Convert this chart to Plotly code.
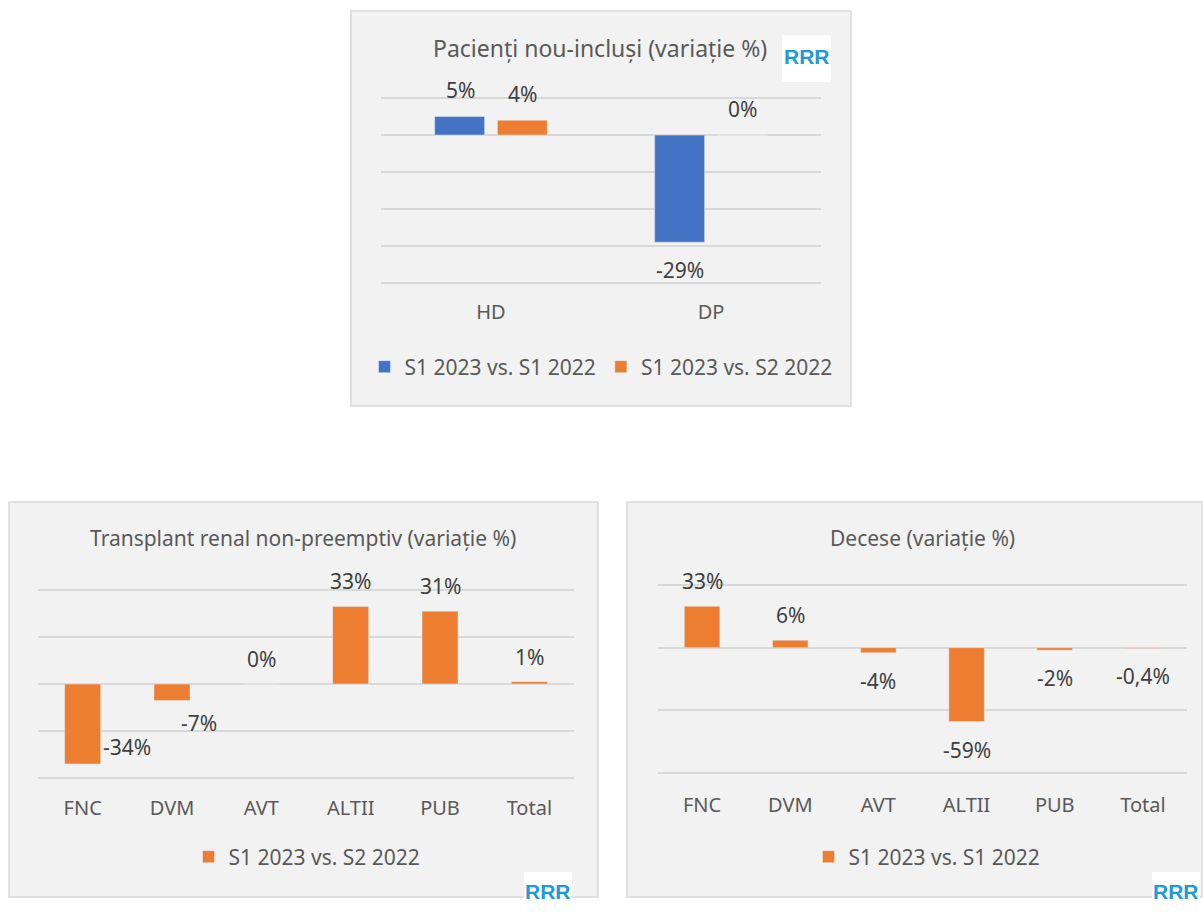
import plotly.graph_objects as go

# ---------------- data ----------------
top_title = "Pacienți nou-incluși (variație %)"
top_categories = ["HD", "DP"]
top_series1_name = "S1 2023 vs. S1 2022"
top_series1 = [0.05, -0.29]
top_series2_name = "S1 2023 vs. S2 2022"
top_series2 = [0.04, 0.0]

tx_title = "Transplant renal non-preemptiv (variație %)"
tx_categories = ["FNC", "DVM", "AVT", "ALTII", "PUB", "Total"]
tx_series_name = "S1 2023 vs. S2 2022"
tx_values = [-0.34, -0.07, 0.0, 0.33, 0.31, 0.01]

dec_title = "Decese (variație %)"
dec_categories = ["FNC", "DVM", "AVT", "ALTII", "PUB", "Total"]
dec_series_name = "S1 2023 vs. S1 2022"
dec_values = [0.33, 0.06, -0.04, -0.59, -0.02, -0.004]

# ---------------- styles ----------------
W, H = 1203, 915
BLUE = "#4472c4"
ORANGE = "#ed7d31"
GRID = "#d9d9d9"
PANEL_BG = "#f2f2f2"
PANEL_LINE = "#d9d9d9"
TXT = "#595959"
LBL = "#404040"
FONT = "Noto Sans"
FS = 21
TICK_FS = 20


def px_x(p):
    return p / W


def px_y(p):
    return 1 - p / H


def pct(v):
    p = round(v * 100, 1)
    if p == int(p):
        return f"{int(p)}%"
    return f"{p}".replace(".", ",") + "%"


fig = go.Figure()

fig.add_trace(go.Bar(x=top_categories, y=top_series1, name=top_series1_name,
                     marker_color=BLUE, width=0.227, offset=-0.256,
                     xaxis="x", yaxis="y", legend="legend"))
fig.add_trace(go.Bar(x=top_categories, y=top_series2, name=top_series2_name,
                     marker_color=ORANGE, width=0.227, offset=0.029,
                     xaxis="x", yaxis="y", legend="legend"))
fig.add_trace(go.Bar(x=tx_categories, y=tx_values, name=tx_series_name,
                     marker_color=ORANGE, width=0.403,
                     xaxis="x2", yaxis="y2", legend="legend2"))
fig.add_trace(go.Bar(x=dec_categories, y=dec_values, name=dec_series_name,
                     marker_color=ORANGE, width=0.403,
                     xaxis="x3", yaxis="y3", legend="legend3"))

annotations = []


def add_label(xref, yref, x, y, xshift, yshift):
    annotations.append(dict(x=x, y=y, xref=xref, yref=yref, text=pct(y),
                            showarrow=False, xshift=xshift, yshift=yshift,
                            xanchor="center", yanchor="middle",
                            font=dict(family=FONT, size=FS, color=LBL)))


for c, v in zip(top_categories, top_series1):
    add_label("x", "y", c, v, -31, 27 if v >= 0 else -28)
for c, v in zip(top_categories, top_series2):
    add_label("x", "y", c, v, 31, 26 if v >= 0 else -28)

tx_offsets = {"FNC": (44, 17), "DVM": (27, -23)}
for c, v in zip(tx_categories, tx_values):
    dx, dy = tx_offsets.get(c, (0, 25 if v >= 0 else -28))
    add_label("x2", "y2", c, v, dx, dy)

for c, v in zip(dec_categories, dec_values):
    add_label("x3", "y3", c, v, 0, 25 if v >= 0 else -28)

# titles
for text, cx, cy, fs in [(top_title, 600, 48, 23), (tx_title, 303, 538, 21),
                         (dec_title, 922, 538, 21)]:
    annotations.append(dict(x=px_x(cx), y=px_y(cy), xref="paper", yref="paper",
                            text=text, showarrow=False, xanchor="center",
                            yanchor="middle",
                            font=dict(family=FONT, size=fs, color=TXT)))

shapes = []
for x0, y0, x1, y1 in [(351, 11, 851, 406), (9, 502, 598, 897), (627, 502, 1202, 897)]:
    shapes.append(dict(type="rect", xref="paper", yref="paper",
                       x0=px_x(x0), x1=px_x(x1), y0=px_y(y1), y1=px_y(y0),
                       fillcolor=PANEL_BG, line=dict(color=PANEL_LINE, width=1.5),
                       layer="below"))
# logos (white badge with stylised letters)
for x0, y0, x1, y1 in [(782, 35, 831, 82), (524, 872, 572, 915), (1152, 872, 1200, 915)]:
    shapes.append(dict(type="rect", xref="paper", yref="paper",
                       x0=px_x(x0), x1=px_x(x1), y0=px_y(y1), y1=px_y(y0),
                       fillcolor="white", line=dict(width=0), layer="above"))
    annotations.append(dict(x=px_x((x0 + x1) / 2), y=px_y((y0 + y1) / 2 - 2),
                            xref="paper", yref="paper", text="<b>RRR</b>",
                            showarrow=False, xanchor="center", yanchor="middle",
                            font=dict(family="Liberation Sans", size=21,
                                      color="#1e9ad6")))

xcommon = dict(type="category", showgrid=False, showline=False, zeroline=False,
               ticks="outside", tickcolor="rgba(0,0,0,0)",
               tickfont=dict(family=FONT, size=TICK_FS, color=TXT), fixedrange=True)
ycommon = dict(showgrid=True, gridcolor=GRID, gridwidth=1.5, zeroline=True,
               zerolinecolor=GRID, zerolinewidth=1.5, showticklabels=False,
               ticks="", showline=False, fixedrange=True)

fig.update_layout(
    width=W, height=H,
    margin=dict(l=0, r=0, t=0, b=0),
    paper_bgcolor="white",
    plot_bgcolor="rgba(0,0,0,0)",
    barmode="overlay",
    showlegend=True,
    font=dict(family=FONT, color=TXT),
    xaxis=dict(xcommon, domain=[px_x(381), px_x(821)], anchor="y", ticklen=7),
    yaxis=dict(ycommon, domain=[px_y(287), px_y(94)], anchor="x",
               range=[-0.411, 0.111], dtick=0.1, tick0=0),
    xaxis2=dict(xcommon, domain=[px_x(38), px_x(574)], anchor="y2", ticklen=8),
    yaxis2=dict(ycommon, domain=[px_y(782), px_y(586)], anchor="x2",
                range=[-0.417, 0.417], dtick=0.2, tick0=0),
    xaxis3=dict(xcommon, domain=[px_x(658), px_x(1187)], anchor="y3", ticklen=10),
    yaxis3=dict(ycommon, domain=[px_y(777), px_y(581)], anchor="x3",
                range=[-1.032, 0.532], dtick=0.5, tick0=0),
    legend=dict(orientation="h", x=px_x(601), y=px_y(367), xanchor="center",
                yanchor="middle", bgcolor="rgba(0,0,0,0)",
                font=dict(family=FONT, size=FS, color=TXT)),
    legend2=dict(orientation="h", x=px_x(307), y=px_y(857), xanchor="center",
                 yanchor="middle", bgcolor="rgba(0,0,0,0)",
                 font=dict(family=FONT, size=FS, color=TXT)),
    legend3=dict(orientation="h", x=px_x(927), y=px_y(857), xanchor="center",
                 yanchor="middle", bgcolor="rgba(0,0,0,0)",
                 font=dict(family=FONT, size=FS, color=TXT)),
    annotations=annotations,
    shapes=shapes,
)

fig.write_html("out.html",
               config={"displayModeBar": False},
               post_script="document.body.style.margin='0px';")
